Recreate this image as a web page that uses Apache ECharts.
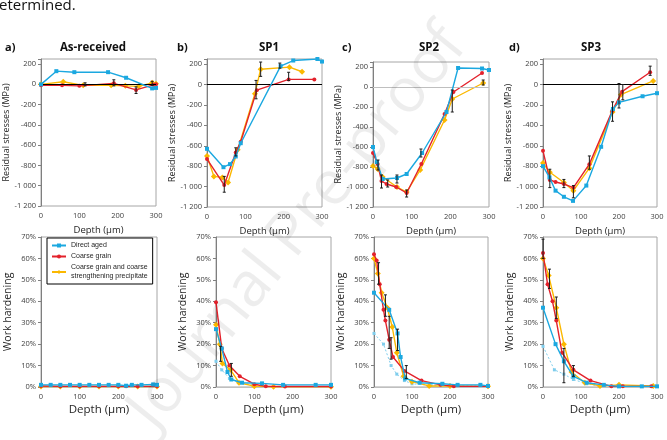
<!DOCTYPE html>
<html>
<head>
<meta charset="utf-8">
<script src="https://cdn.jsdelivr.net/npm/echarts@6/dist/echarts.min.js"></script>
<style>
  html, body { margin: 0; padding: 0; background: #fff; }
  #main { width: 667px; height: 440px; }
</style>
</head>
<body>
<div id="main"></div>
<script>
// ---- data: residual stresses (MPa) vs depth (µm) ----
const rsA_direct = [[0, 0], [40, 130], [87, 120], [175, 120], [222, 65], [290, -40], [300, -35]];
const rsA_coarse = [[0, -10], [55, -10], [100, -15], [190, 10], [248, -55], [293, -5], [300, 0]];
const rsA_precip = [[0, 0], [58, 25], [110, -10], [183, -10], [220, -15], [255, -20], [290, 15], [300, 5]];

const rsB_direct = [[0, -630], [43, -810], [60, -780], [75, -705], [88, -575], [192, 180], [225, 235], [288, 250], [300, 225]];
const rsB_coarse = [[0, -730], [45, -985], [75, -665], [88, -560], [130, -55], [213, 50], [280, 50]];
const rsB_precip = [[0, -700], [18, -900], [40, -910], [55, -960], [80, -640], [125, -90], [140, 150], [215, 170], [248, 125]];

const rsC_direct = [[0, -600], [10, -750], [25, -920], [62, -910], [87, -870], [127, -660], [190, -250], [220, 190], [282, 185], [300, 170]];
const rsC_coarse = [[0, -660], [12, -770], [22, -940], [35, -970], [60, -1000], [87, -1060], [125, -770], [185, -270], [208, -50], [282, 140]];
const rsC_precip = [[0, -790], [12, -820], [25, -900], [62, -1000], [87, -1050], [122, -830], [185, -330], [205, -120], [285, 40]];

const rsD_direct = [[0, -800], [17, -910], [33, -1040], [55, -1100], [79, -1140], [114, -990], [153, -610], [184, -240], [200, -175], [262, -115], [300, -85]];
const rsD_coarse = [[0, -650], [18, -935], [33, -955], [55, -975], [80, -1010], [122, -780], [182, -260], [208, -70], [282, 120]];
const rsD_precip = [[0, -770], [18, -860], [55, -960], [80, -1040], [122, -820], [183, -270], [205, -100], [290, 35]];

// error bars: [depth, low, high]
const rsA_err = [[115, -15, 15], [190, -15, 45], [248, -90, -25], [290, -10, 30]];
const rsB_err = [[45, -1055, -900], [75, -700, -620], [128, -140, 40], [140, 80, 220], [190, 160, 210], [213, 40, 120]];
const rsC_err = [[13, -830, -730], [22, -1010, -880], [38, -1000, -930], [62, -960, -880], [87, -1100, -1030], [124, -700, -620], [205, -250, -30], [285, 20, 70]];
const rsD_err = [[18, -1010, -830], [55, -1010, -930], [80, -1110, -990], [122, -830, -700], [183, -360, -170], [200, -230, 10], [210, -150, 0], [282, 90, 180]];

// ---- data: work hardening (%) vs depth (µm) ----
const whA_direct = [[0, 1.0], [25, 1.0], [50, 1.0], [75, 1.0], [100, 1.0], [125, 1.0], [150, 1.0], [175, 1.0], [200, 1.0], [220, 0.6], [235, 1.0], [260, 1.0], [290, 1.2], [300, 1.0]];
const whA_coarse = [[0, 0.5], [50, 0.3], [100, 0.3], [150, 0.3], [200, 0.3], [220, 0.3], [250, 0.3], [300, 0.3]];
const whA_precip = [[0, 0.2], [50, 0.2], [100, 0.2], [150, 0.2], [200, 0.2], [250, 0.2], [300, 0.2]];

const whB_direct = [[0, 27], [15, 18], [30, 7], [40, 3.5], [68, 2], [120, 1.7], [175, 1], [260, 1], [300, 1]];
const whB_direct2 = [[0, 12], [15, 8], [35, 4], [60, 2], [100, 1]];
const whB_coarse = [[0, 39.5], [15, 18], [35, 10], [62, 5], [100, 1.3], [130, 0.3], [180, 0.2], [300, 0.2]];
const whB_precip = [[0, 29], [10, 20], [17, 11], [38, 8], [60, 2], [100, 0.4], [150, 0.1], [300, 0.1]];

const whC_direct = [[0, 44], [40, 36], [62, 25], [70, 14], [82, 4], [120, 2], [180, 1.5], [220, 1], [280, 1], [300, 0.5]];
const whC_direct2 = [[0, 25], [25, 20], [45, 10], [60, 6], [80, 3], [100, 1.5], [150, 0.8], [200, 0.5], [300, 0.5]];
const whC_coarse = [[0, 62], [7, 59], [15, 48], [25, 36], [30, 31], [40, 22], [50, 14], [80, 7.5], [125, 3], [175, 1], [210, 0.3], [300, 0.3]];
const whC_precip = [[0, 60], [10, 53], [20, 44], [35, 37], [48, 28], [60, 16], [78, 5], [100, 2.5], [145, 0.5], [200, 0.5], [300, 0.3]];

const whD_direct = [[0, 37], [33, 20], [55, 12], [80, 5], [115, 2], [160, 1], [200, 0.3], [260, 0.3], [300, 0.3]];
const whD_direct2 = [[0, 19], [30, 8], [55, 6], [80, 3.5], [115, 1.5], [150, 0.5], [200, 0.3]];
const whD_coarse = [[0, 62.5], [12, 48], [25, 40], [35, 31], [50, 16], [80, 8], [125, 3], [180, 0.3], [210, 0.3], [285, 0.3]];
const whD_precip = [[0, 60], [15, 52], [35, 37], [55, 20], [75, 7], [110, 2], [150, 0.5], [200, 1], [290, 0.5]];

const whA_err = [];
const whB_err = [[12, 12, 19], [40, 5, 11]];
const whC_err = [[12, 48, 58], [30, 33, 43], [40, 18, 33], [45, 13, 23], [62, 17, 27], [85, 4, 10]];
const whD_err = [[0, 60, 69], [17, 46, 55], [35, 32, 42], [55, 2, 18], [80, 5, 10]];

const panelLetters = ['a)', 'b)', 'c)', 'd)'];
const panelTitles = ['As-received', 'SP1', 'SP2', 'SP3'];
const seriesNames = ['Direct aged', 'Coarse grain', 'Coarse grain and coarse\nstrengthening precipitate'];

const rsData = [
  [rsA_direct, rsA_coarse, rsA_precip],
  [rsB_direct, rsB_coarse, rsB_precip],
  [rsC_direct, rsC_coarse, rsC_precip],
  [rsD_direct, rsD_coarse, rsD_precip]
];
const rsErr = [rsA_err, rsB_err, rsC_err, rsD_err];
const whData = [
  [whA_direct, whA_coarse, whA_precip, null],
  [whB_direct, whB_coarse, whB_precip, whB_direct2],
  [whC_direct, whC_coarse, whC_precip, whC_direct2],
  [whD_direct, whD_coarse, whD_precip, whD_direct2]
];
const whErr = [whA_err, whB_err, whC_err, whD_err];

// ---- layout ----
const colors = ['#1ba8e0', '#e3212b', '#fbb800'];
const symbols = ['rect', 'circle', 'diamond'];
const FONT = 'Open Sans';

const topGrids = [
  { left: 41, top: 59, width: 115, height: 147 },
  { left: 207, top: 59, width: 115, height: 148 },
  { left: 373, top: 62, width: 116, height: 145 },
  { left: 543, top: 59, width: 114, height: 148 }
];
const bottomGrids = [
  { left: 41, top: 237, width: 116, height: 150 },
  { left: 216, top: 237, width: 115, height: 150 },
  { left: 374, top: 237, width: 114, height: 150 },
  { left: 543, top: 237, width: 114, height: 150 }
];
const titleX = [88, 264, 424, 586];
const letterX = [0, 172, 337, 504];

function stressLabel(v) {
  if (v % 200 !== 0) return '';
  const s = String(Math.abs(v)).replace(/\B(?=(\d{3})+(?!\d))/g, ' ');
  return (v < 0 ? '-' : '') + s;
}

function errorSeries(gi, d) {
  return {
    type: 'custom', xAxisIndex: gi, yAxisIndex: gi, data: d, z: 8, silent: true, animation: false,
    encode: { x: 0, y: [1, 2] },
    renderItem: function (params, api) {
      const x = api.value(0);
      const lo = api.coord([x, api.value(1)]);
      const hi = api.coord([x, api.value(2)]);
      const st = { stroke: '#1a1a1a', lineWidth: 1 };
      return {
        type: 'group', children: [
          { type: 'line', shape: { x1: lo[0], y1: lo[1], x2: hi[0], y2: hi[1] }, style: st },
          { type: 'line', shape: { x1: lo[0] - 1.5, y1: lo[1], x2: lo[0] + 1.5, y2: lo[1] }, style: st },
          { type: 'line', shape: { x1: hi[0] - 1.5, y1: hi[1], x2: hi[0] + 1.5, y2: hi[1] }, style: st }
        ]
      };
    }
  };
}

const grid = [];
const xAxis = [];
const yAxis = [];
const series = [];

const tickLabelStyle = { fontSize: 7.5, color: '#404040', fontFamily: FONT };

topGrids.forEach((g, i) => {
  grid.push(Object.assign({ show: true, borderColor: '#a6a6a6', borderWidth: 1, backgroundColor: 'transparent' }, g));
  const gi = grid.length - 1;
  xAxis.push({
    type: 'value', gridIndex: gi, min: 0, max: 300, interval: 100,
    name: 'Depth (µm)', nameLocation: 'middle', nameGap: 19,
    nameTextStyle: { fontSize: 9.5, color: '#262626', fontFamily: FONT },
    axisLine: { show: false, onZero: false }, axisTick: { show: false },
    splitLine: { show: false },
    axisLabel: Object.assign({ margin: 6 }, tickLabelStyle)
  });
  yAxis.push({
    type: 'value', gridIndex: gi, min: -1200, max: 250, interval: 200,
    name: 'Residual stresses (MPa)', nameLocation: 'middle', nameGap: 29,
    nameTextStyle: { fontSize: 9, color: '#262626', fontFamily: FONT },
    axisLine: { show: true, lineStyle: { color: '#7f7f7f' } },
    axisTick: { show: true, length: 3, lineStyle: { color: '#7f7f7f' } },
    splitLine: { show: false },
    axisLabel: Object.assign({ margin: 5, formatter: stressLabel }, tickLabelStyle)
  });
  rsData[i].forEach((d, k) => {
    const s = {
      name: seriesNames[k], type: 'line', xAxisIndex: gi, yAxisIndex: gi,
      data: d, symbol: symbols[k], symbolSize: k === 2 ? 6 : 4, showSymbol: true,
      lineStyle: { color: colors[k], width: 1.4 }, itemStyle: { color: colors[k] },
      animation: false, z: 3 + (2 - k)
    };
    if (k === 0) {
      s.markLine = {
        silent: true, symbol: 'none', label: { show: false },
        lineStyle: { color: i === 2 ? '#bfbfbf' : '#000', type: 'solid', width: 1 },
        data: [{ yAxis: 0 }]
      };
    }
    series.push(s);
  });
  series.push(errorSeries(gi, rsErr[i]));
});

bottomGrids.forEach((g, i) => {
  grid.push(Object.assign({ show: true, borderColor: '#a6a6a6', borderWidth: 1, backgroundColor: 'transparent' }, g));
  const gi = grid.length - 1;
  xAxis.push({
    type: 'value', gridIndex: gi, min: 0, max: 300, interval: 100,
    name: 'Depth (µm)', nameLocation: 'middle', nameGap: 17,
    nameTextStyle: { fontSize: 11.5, color: '#262626', fontFamily: FONT },
    axisLine: { show: true, onZero: false, lineStyle: { color: '#bfbfbf' } }, axisTick: { show: false },
    splitLine: { show: false },
    axisLabel: Object.assign({ margin: 6 }, tickLabelStyle)
  });
  yAxis.push({
    type: 'value', gridIndex: gi, min: 0, max: 70, interval: 10,
    name: 'Work hardening', nameLocation: 'middle', nameGap: 27,
    nameTextStyle: { fontSize: 10.5, color: '#262626', fontFamily: FONT },
    axisLine: { show: true, lineStyle: { color: '#7f7f7f' } },
    axisTick: { show: true, length: 3, lineStyle: { color: '#7f7f7f' } },
    splitLine: { show: false },
    axisLabel: Object.assign({ margin: 5, formatter: '{value}%' }, tickLabelStyle)
  });
  whData[i].forEach((d, k) => {
    if (!d) return;
    const dotted = k === 3;
    const c = dotted ? '#7fcdec' : colors[k];
    series.push({
      name: dotted ? 'Direct aged (surface)' : seriesNames[k], type: 'line',
      xAxisIndex: gi, yAxisIndex: gi,
      data: d, symbol: dotted ? 'rect' : symbols[k], symbolSize: dotted ? 3 : (k === 2 ? 6 : 4),
      lineStyle: { color: c, width: dotted ? 1 : 1.4, type: dotted ? [2, 2] : 'solid' },
      itemStyle: { color: c }, animation: false, z: dotted ? 2 : 3 + (2 - k)
    });
  });
  if (whErr[i].length) series.push(errorSeries(gi, whErr[i]));
});

const titles = [];
panelTitles.forEach((t, i) => {
  titles.push({ text: t, left: titleX[i], top: 37, textAlign: 'center',
    textStyle: { fontSize: 11.5, fontWeight: 'bold', color: '#111', fontFamily: FONT } });
  titles.push({ text: panelLetters[i], left: letterX[i], top: 37,
    textStyle: { fontSize: 11, fontWeight: 'bold', color: '#111', fontFamily: FONT } });
});

const chart = echarts.init(document.getElementById('main'), null, { renderer: 'canvas' });
chart.setOption({
  animation: false,
  backgroundColor: '#fff',
  title: titles,
  legend: {
    data: seriesNames, orient: 'vertical', left: 47, top: 238,
    backgroundColor: '#fff', borderColor: '#000', borderWidth: 1, borderRadius: 0,
    padding: [3, 5, 3, 4], itemGap: 2, itemWidth: 14, itemHeight: 5,
    textStyle: { fontSize: 7, color: '#262626', fontFamily: 'Liberation Sans', lineHeight: 9 }
  },
  grid: grid,
  xAxis: xAxis,
  yAxis: yAxis,
  series: series,
  graphic: [
    { type: 'text', left: -1, top: -2,
      style: { text: 'etermined.', fontSize: 15, fill: '#111', fontFamily: FONT } },
    { type: 'text', x: 298, y: 228, rotation: 0.89, z: 100, silent: true,
      style: { text: 'Journal Pre-proof', fontSize: 62, fill: 'rgba(0,0,0,0.07)', fontFamily: FONT,
        align: 'center', verticalAlign: 'middle' } }
  ]
});
</script>
</body>
</html>
